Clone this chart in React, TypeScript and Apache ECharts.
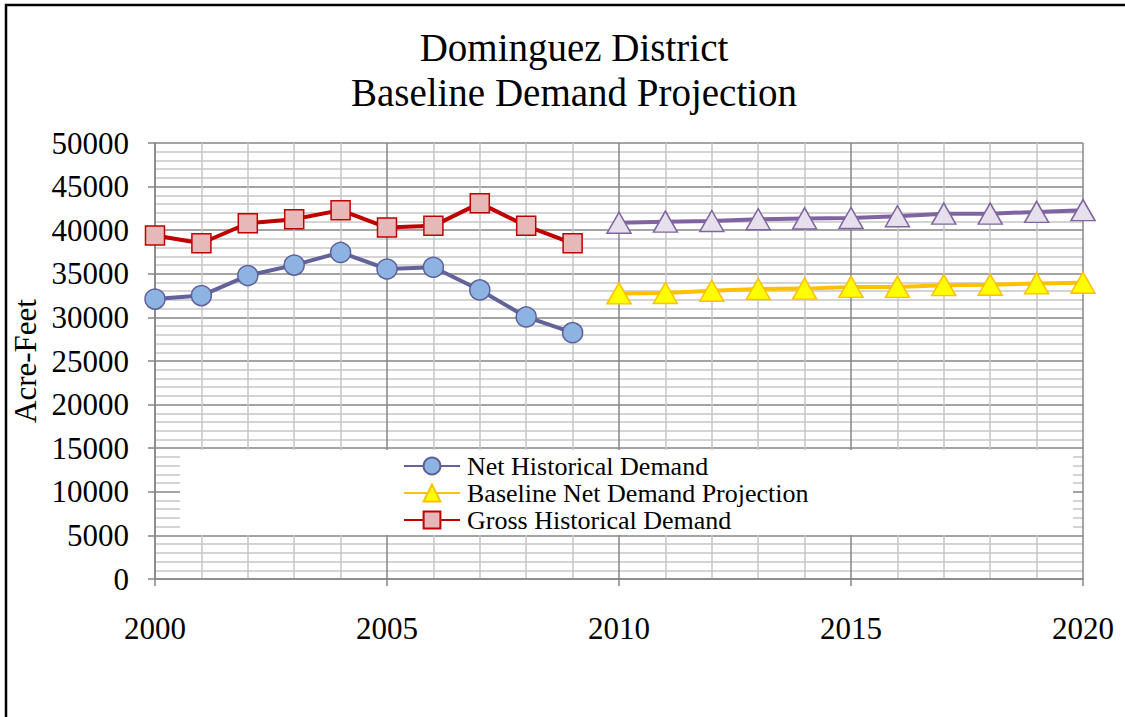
import React, { useEffect, useRef } from "react";
import * as echarts from "echarts";

const histYears = [2000, 2001, 2002, 2003, 2004, 2005, 2006, 2007, 2008, 2009];
const projYears = [2010, 2011, 2012, 2013, 2014, 2015, 2016, 2017, 2018, 2019, 2020];
const netHistorical = [32100, 32500, 34800, 36000, 37450, 35550, 35750, 33150, 30050, 28250];
const grossHistorical = [39400, 38500, 40800, 41250, 42300, 40300, 40500, 43100, 40500, 38500];
const baselineNetProjection = [32750, 32800, 33050, 33250, 33300, 33500, 33500, 33700, 33750, 33900, 33980];
const grossProjection = [40850, 40980, 41050, 41250, 41350, 41400, 41600, 41900, 41900, 42100, 42300];

const yTicks = [0, 5000, 10000, 15000, 20000, 25000, 30000, 35000, 40000, 45000, 50000];
const xTicks = [2000, 2005, 2010, 2015, 2020];

const FONT = "Liberation Serif";

function pairs(xs: number[], ys: number[]) {
  return xs.map((x, i) => [x, ys[i]]);
}

export default function App() {
  const ref = useRef<HTMLDivElement>(null);
  useEffect(() => {
    if (!ref.current) return;
    const chart = echarts.init(ref.current, undefined, { renderer: "svg" });
    const major = "#868686";
    const minor = "#c6c6c6";
    chart.setOption({
      animation: false,
      backgroundColor: "#ffffff",
      textStyle: { fontFamily: FONT },
      title: {
        text: "Dominguez District\nBaseline Demand Projection",
        left: 569,
        textAlign: "center",
        top: 20,
        textStyle: { fontFamily: FONT, fontSize: 39, fontWeight: "normal", color: "#000", lineHeight: 45 },
      },
      grid: { left: 155, right: 42, top: 143, bottom: 138, containLabel: false },
      xAxis: {
        type: "value",
        min: xTicks[0],
        max: xTicks[xTicks.length - 1],
        interval: 5,
        axisLine: { show: true, lineStyle: { color: major, width: 1.5 } },
        axisTick: { show: true, length: 7, lineStyle: { color: major, width: 1.5 } },
        axisLabel: { fontFamily: FONT, fontSize: 31, color: "#000", margin: 34, formatter: (v: number) => String(v) },
        splitLine: { show: true, lineStyle: { color: major, width: 1.5 } },
        minorTick: { show: false, splitNumber: 5 },
        minorSplitLine: { show: true, lineStyle: { color: minor, width: 1.5 } },
      },
      yAxis: {
        type: "value",
        min: yTicks[0],
        max: yTicks[yTicks.length - 1],
        interval: 5000,
        name: "Acre-Feet",
        nameLocation: "middle",
        nameRotate: 90,
        nameGap: 106,
        nameTextStyle: { fontFamily: FONT, fontSize: 31, color: "#000" },
        axisLine: { show: true, lineStyle: { color: major, width: 1.5 } },
        axisTick: { show: true, length: 7, lineStyle: { color: major, width: 1.5 } },
        axisLabel: { fontFamily: FONT, fontSize: 31, color: "#000", margin: 26, formatter: (v: number) => String(v) },
        splitLine: { show: true, lineStyle: { color: major, width: 1.5 } },
        minorTick: { show: false, splitNumber: 5 },
        minorSplitLine: { show: true, lineStyle: { color: minor, width: 1.5 } },
      },
      legend: {
        data: ["Net Historical Demand", "Baseline Net Demand Projection", "Gross Historical Demand"],
        orient: "vertical",
        left: 403,
        top: 453,
        itemWidth: 56,
        itemHeight: 21,
        itemGap: 1,
        padding: 0,
        textStyle: { fontFamily: FONT, fontSize: 26, lineHeight: 26, color: "#000", padding: [0, 0, 0, 2] },
        z: 6,
      },
      graphic: [
        {
          type: "rect",
          z: 3,
          shape: { x: 180, y: 450, width: 893, height: 85 },
          style: { fill: "#ffffff" },
        },
        {
          type: "rect",
          z: 10,
          shape: { x: 6, y: 5, width: 1200, height: 800 },
          style: { fill: "none", stroke: "#000", lineWidth: 2.5 },
        },
      ],
      series: [
        {
          name: "Net Historical Demand",
          type: "line",
          data: pairs(histYears, netHistorical),
          symbol: "circle",
          symbolSize: 20,
          lineStyle: { color: "#63639c", width: 4 },
          itemStyle: { color: "#8db3e2", borderColor: "#5f5f9a", borderWidth: 1.5 },
        },
        {
          name: "Baseline Net Demand Projection",
          type: "line",
          data: pairs(projYears, baselineNetProjection),
          symbol: "triangle",
          symbolSize: [24, 21],
          lineStyle: { color: "#ffc000", width: 4 },
          itemStyle: { color: "#ffff00", borderColor: "#ffc000", borderWidth: 1.5 },
        },
        {
          name: "Gross Historical Demand",
          type: "line",
          data: pairs(histYears, grossHistorical),
          symbol: "rect",
          symbolSize: 19,
          lineStyle: { color: "#c00000", width: 4 },
          itemStyle: { color: "#e6b9b8", borderColor: "#c00000", borderWidth: 1.5 },
        },
        {
          name: "Gross Demand Projection",
          type: "line",
          data: pairs(projYears, grossProjection),
          symbol: "triangle",
          symbolSize: [24, 21],
          lineStyle: { color: "#8064a2", width: 4 },
          itemStyle: { color: "#e6e0ec", borderColor: "#8064a2", borderWidth: 1.5 },
        },
      ],
    });
    return () => chart.dispose();
  }, []);
  return (
    <div style={{ position: "absolute", left: 0, top: 0, width: 1125, height: 717, background: "#fff" }}>
      <div ref={ref} style={{ width: 1125, height: 717 }} />
    </div>
  );
}
